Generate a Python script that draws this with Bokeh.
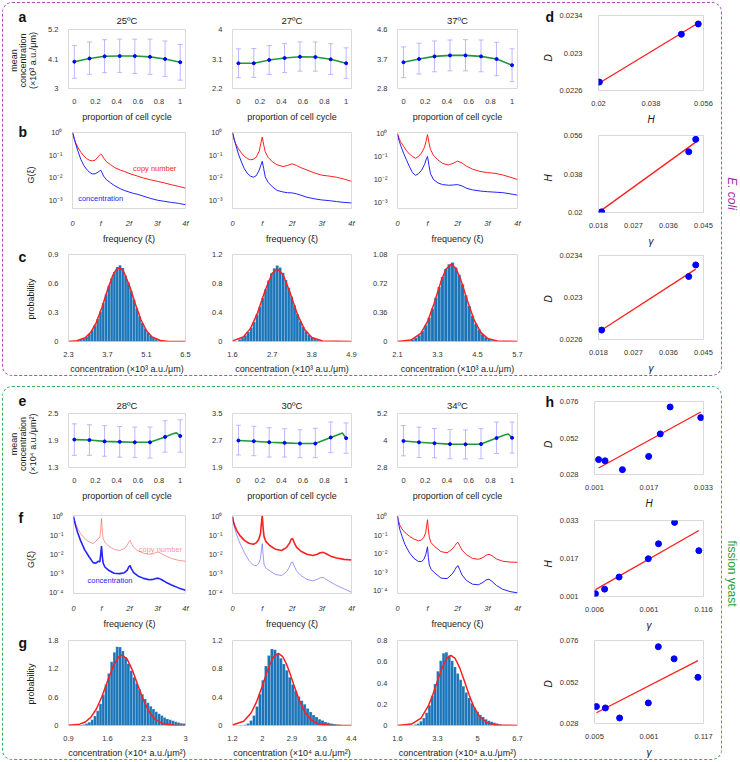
import math
from bokeh.plotting import figure
from bokeh.models import (Range1d, FixedTicker, CustomJSTickFormatter, Label,
                          Whisker, TeeHead, ColumnDataSource, Spacer)
from bokeh.layouts import row, column
from bokeh.embed import file_html
from bokeh.resources import INLINE

FONT = "Liberation Sans"

# ======================= DATA =======================
phase = [0, 1/7, 2/7, 3/7, 4/7, 5/7, 6/7, 1]
phase_ticks = [0, 0.2, 0.4, 0.6, 0.8, 1]

ec_titles = ["25ºC", "27ºC", "37ºC"]
ec25_mean = [4.00, 4.12, 4.20, 4.21, 4.21, 4.18, 4.10, 3.98]
ec25_hi = [4.60, 4.73, 4.82, 4.84, 4.84, 4.84, 4.77, 4.64]
ec25_lo = [3.38, 3.53, 3.59, 3.60, 3.56, 3.53, 3.45, 3.31]
ec27_mean = [2.97, 2.97, 3.07, 3.13, 3.17, 3.16, 3.09, 2.97]
ec27_hi = [3.41, 3.42, 3.51, 3.57, 3.62, 3.62, 3.57, 3.44]
ec27_lo = [2.53, 2.54, 2.63, 2.69, 2.73, 2.73, 2.63, 2.51]
ec37_mean = [3.60, 3.70, 3.78, 3.81, 3.81, 3.78, 3.70, 3.51]
ec37_hi = [4.07, 4.18, 4.25, 4.28, 4.29, 4.28, 4.21, 4.01]
ec37_lo = [3.13, 3.24, 3.31, 3.34, 3.34, 3.31, 3.19, 3.01]
ec_mean_yticks = [[3, 4.1, 5.2], [2.2, 3.1, 4], [2.8, 3.7, 4.6]]

sp_titles = ["28ºC", "30ºC", "34ºC"]
sp28_mean = [1.92, 1.91, 1.88, 1.87, 1.86, 1.86, 1.98, 2.00]
sp28_hi = [2.27, 2.25, 2.23, 2.21, 2.20, 2.20, 2.34, 2.36]
sp28_lo = [1.57, 1.57, 1.55, 1.53, 1.52, 1.51, 1.64, 1.64]
sp30_mean = [2.70, 2.68, 2.65, 2.63, 2.61, 2.61, 2.79, 2.77]
sp30_hi = [3.15, 3.12, 3.08, 3.05, 3.02, 3.06, 3.25, 3.22]
sp30_lo = [2.27, 2.25, 2.21, 2.21, 2.19, 2.19, 2.34, 2.32]
sp34_mean = [3.98, 3.92, 3.88, 3.84, 3.83, 3.84, 4.11, 4.12]
sp34_hi = [4.66, 4.59, 4.53, 4.49, 4.47, 4.53, 4.82, 4.82]
sp34_lo = [3.32, 3.24, 3.23, 3.19, 3.18, 3.19, 3.42, 3.44]
sp_curve_phase = [0, 1/7, 2/7, 3/7, 4/7, 5/7, 6/7, 0.93, 0.965, 1.0]
sp28_curve = [1.92, 1.91, 1.88, 1.87, 1.86, 1.86, 1.98, 2.05, 2.07, 2.00]
sp30_curve = [2.70, 2.68, 2.65, 2.63, 2.61, 2.61, 2.79, 2.88, 2.92, 2.77]
sp34_curve = [3.98, 3.92, 3.88, 3.84, 3.83, 3.84, 4.11, 4.24, 4.29, 4.12]
sp_mean_yticks = [[1.3, 1.9, 2.5], [1.9, 2.7, 3.5], [2.8, 4, 5.2]]

# spectra: frequency in units of f, values as log10 G(xi)
freq_ec = [0, 0.05, 0.1, 0.2, 0.3, 0.4, 0.5, 0.6, 0.7, 0.8, 0.9, 0.95, 1.0, 1.05, 1.1,
           1.2, 1.35, 1.5, 1.7, 1.85, 2.0, 2.15, 2.3, 2.5, 2.75, 3.0, 3.25, 3.5, 3.75, 4.0]
ec25_copy_log = [0.0, -0.25, -0.42, -0.68, -0.88, -1.03, -1.15, -1.22, -1.25, -1.22,
                 -1.08, -1.0, -0.95, -1.0, -1.12, -1.28, -1.42, -1.55, -1.66, -1.72,
                 -1.80, -1.86, -1.92, -2.00, -2.08, -2.15, -2.22, -2.30, -2.37, -2.45]
ec25_conc_log = [0.0, -0.2, -0.45, -0.85, -1.2, -1.45, -1.62, -1.75, -1.82, -1.82,
                 -1.75, -1.70, -1.66, -1.78, -1.92, -2.08, -2.22, -2.35, -2.48, -2.56,
                 -2.62, -2.68, -2.72, -2.80, -2.90, -2.98, -3.03, -3.08, -3.12, -3.18]
ec27_copy_log = [0.0, -0.3, -0.48, -0.72, -0.9, -1.05, -1.15, -1.2, -1.18, -1.08,
                 -0.82, -0.5, -0.2, -0.55, -0.85, -1.1, -1.3, -1.42, -1.5, -1.45,
                 -1.38, -1.45, -1.55, -1.65, -1.78, -1.88, -1.92, -1.97, -2.05, -2.15]
ec27_conc_log = [0.0, -0.25, -0.5, -0.95, -1.3, -1.6, -1.8, -1.92, -1.97, -1.9,
                 -1.65, -1.45, -1.27, -1.6, -1.95, -2.2, -2.4, -2.55, -2.62, -2.65,
                 -2.66, -2.7, -2.76, -2.85, -2.92, -2.97, -3.0, -3.04, -3.08, -3.1]
ec37_copy_log = [0.0, -0.2, -0.35, -0.55, -0.75, -0.9, -1.0, -1.08, -1.0, -0.85,
                 -0.6, -0.35, -0.05, -0.4, -0.7, -0.95, -1.15, -1.3, -1.37, -1.3,
                 -1.2, -1.28, -1.42, -1.55, -1.65, -1.7, -1.73, -1.8, -1.9, -2.0]
ec37_conc_log = [-0.05, -0.3, -0.5, -0.85, -1.15, -1.45, -1.7, -1.82, -1.75, -1.6,
                 -1.35, -1.15, -1.0, -1.4, -1.75, -2.0, -2.15, -2.22, -2.25, -2.24,
                 -2.22, -2.28, -2.38, -2.45, -2.5, -2.53, -2.55, -2.57, -2.62, -2.68]

freq_sp = [0, 0.03, 0.08, 0.15, 0.25, 0.4, 0.55, 0.7, 0.8, 0.88, 0.94, 0.97, 1.0, 1.03,
           1.06, 1.12, 1.25, 1.45, 1.65, 1.82, 1.92, 1.97, 2.02, 2.07, 2.15, 2.3, 2.5,
           2.7, 2.85, 2.95, 3.05, 3.15, 3.3, 3.5, 3.75, 4.0]
sp28_copy_log = [0, -0.15, -0.38, -0.62, -0.88, -1.15, -1.32, -1.42, -1.3, -1.15,
                 -1.1, -0.7, -0.1, -0.75, -1.15, -1.35, -1.55, -1.72, -1.78, -1.68,
                 -1.5, -1.35, -1.25, -1.42, -1.62, -1.8, -1.92, -1.98, -1.95, -1.88,
                 -1.87, -1.95, -2.07, -2.2, -2.3, -2.35]
sp28_conc_log = [0, -0.2, -0.5, -0.85, -1.25, -1.75, -2.1, -2.42, -2.45, -2.35,
                 -2.38, -2.0, -1.55, -2.1, -2.45, -2.65, -2.82, -2.98, -3.0, -2.95,
                 -2.82, -2.65, -2.58, -2.75, -2.95, -3.12, -3.25, -3.32, -3.3, -3.25,
                 -3.25, -3.32, -3.45, -3.6, -3.75, -3.88]
sp30_copy_log = [0, -0.25, -0.5, -0.75, -1.0, -1.25, -1.4, -1.45, -1.38, -1.2,
                 -0.9, -0.4, 0.05, -0.6, -1.05, -1.3, -1.52, -1.72, -1.78, -1.62,
                 -1.38, -1.2, -1.15, -1.35, -1.6, -1.82, -1.98, -2.05, -1.98, -1.9,
                 -1.88, -1.95, -2.08, -2.18, -2.25, -2.28]
sp30_conc_log = [0, -0.3, -0.65, -1.0, -1.4, -1.9, -2.3, -2.55, -2.58, -2.48,
                 -2.2, -1.8, -1.42, -2.0, -2.5, -2.7, -2.85, -3.05, -3.1, -2.9,
                 -2.62, -2.42, -2.38, -2.58, -2.85, -3.1, -3.3, -3.38, -3.3, -3.22,
                 -3.2, -3.3, -3.45, -3.62, -3.8, -3.98]
sp34_copy_log = [0.05, -0.2, -0.45, -0.65, -0.85, -1.05, -1.2, -1.3, -1.25, -1.1,
                 -0.85, -0.5, -0.15, -0.7, -1.1, -1.4, -1.62, -1.88, -1.95, -1.75,
                 -1.55, -1.42, -1.38, -1.55, -1.8, -2.05, -2.25, -2.3, -2.2, -2.08,
                 -2.03, -2.1, -2.28, -2.4, -2.45, -2.46]
sp34_conc_log = [0.05, -0.3, -0.7, -1.05, -1.5, -1.95, -2.25, -2.42, -2.42, -2.3,
                 -2.05, -1.85, -1.62, -2.2, -2.6, -2.85, -3.05, -3.32, -3.35, -3.1,
                 -2.85, -2.7, -2.65, -2.85, -3.15, -3.45, -3.65, -3.68, -3.55, -3.42,
                 -3.38, -3.5, -3.72, -3.92, -4.05, -4.12]
freq_ticks = [0, 1, 2, 3, 4]
freq_labels = ["0", "f", "2f", "3f", "4f"]

# concentration histograms (probability density) + normal fits
ec25_bin0, ec25_binw = 2.65, 0.1
ec25_hist = [0.010, 0.018, 0.030, 0.049, 0.077, 0.116, 0.167, 0.232, 0.310, 0.397,
             0.488, 0.578, 0.657, 0.718, 0.770, 0.790, 0.760, 0.684, 0.611, 0.525,
             0.433, 0.344, 0.262, 0.192, 0.135, 0.091, 0.059, 0.037, 0.022, 0.013, 0.007]
ec25_fit_x = [2.3, 2.6, 2.9, 3.1, 3.3, 3.5, 3.7, 3.9, 4.0, 4.1, 4.2, 4.3, 4.5, 4.7,
              4.9, 5.1, 5.3, 5.6, 5.9, 6.2, 6.5]
ec25_fit_y = [0.001, 0.008, 0.039, 0.095, 0.198, 0.352, 0.534, 0.690, 0.739, 0.760,
              0.750, 0.712, 0.569, 0.388, 0.225, 0.111, 0.047, 0.010, 0.001, 0.0, 0.0]
ec27_bin0, ec27_binw = 1.80, 0.08
ec27_hist = [0.03, 0.05, 0.085, 0.13, 0.19, 0.27, 0.37, 0.48, 0.60, 0.72, 0.84, 0.94,
             1.01, 1.05, 1.02, 0.95, 0.85, 0.74, 0.62, 0.50, 0.38, 0.28, 0.20, 0.14,
             0.09, 0.056, 0.034, 0.02, 0.011]
ec27_fit_x = [1.6, 1.9, 2.1, 2.3, 2.5, 2.7, 2.84, 3.0, 3.2, 3.4, 3.6, 3.8, 4.1, 4.9]
ec27_fit_y = [0.008, 0.063, 0.181, 0.402, 0.697, 0.941, 1.0, 0.923, 0.667, 0.375,
              0.164, 0.056, 0.007, 0.0]
ec37_bin0, ec37_binw = 2.55, 0.1
ec37_hist = [0.025, 0.046, 0.079, 0.130, 0.201, 0.296, 0.411, 0.542, 0.676, 0.80,
             0.90, 0.96, 0.98, 0.92, 0.83, 0.71, 0.575, 0.44, 0.32, 0.22, 0.145,
             0.09, 0.053, 0.03, 0.016]
ec37_fit_x = [2.1, 2.5, 2.8, 3.0, 3.2, 3.4, 3.55, 3.71, 3.85, 4.0, 4.2, 4.4, 4.6,
              4.8, 5.1, 5.7]
ec37_fit_y = [0.001, 0.018, 0.102, 0.246, 0.475, 0.740, 0.896, 0.960, 0.910, 0.765,
              0.502, 0.265, 0.113, 0.039, 0.005, 0.0]
ec_hist_xr = [(2.3, 6.5), (1.6, 4.9), (2.1, 5.7)]
ec_hist_xticks = [[2.3, 3.7, 5.1, 6.5], [1.6, 2.7, 3.8, 4.9], [2.1, 3.3, 4.5, 5.7]]
ec_hist_yticks = [[0, 0.3, 0.6, 0.9], [0, 0.4, 0.8, 1.2], [0, 0.36, 0.72, 1.08]]

sp28_bin0, sp28_binw = 1.125, 0.05
sp28_hist = [0.01, 0.02, 0.04, 0.07, 0.12, 0.20, 0.31, 0.46, 0.65, 0.87, 1.10, 1.35,
             1.55, 1.67, 1.66, 1.58, 1.45, 1.31, 1.16, 1.02, 0.89, 0.77, 0.66, 0.56,
             0.48, 0.41, 0.35, 0.29, 0.25, 0.21, 0.17, 0.14, 0.12, 0.10, 0.08, 0.065,
             0.05, 0.04]
sp28_fit_x = [0.9, 1.1, 1.2, 1.3, 1.4, 1.5, 1.6, 1.7, 1.8, 1.86, 1.95, 2.05, 2.15,
              2.25, 2.35, 2.45, 2.6, 2.8, 3.0]
sp28_fit_y = [0.003, 0.028, 0.075, 0.173, 0.349, 0.613, 0.937, 1.250, 1.454, 1.49,
              1.410, 1.163, 0.837, 0.525, 0.287, 0.137, 0.035, 0.003, 0.0]
sp30_bin0, sp30_binw = 1.54, 0.08
sp30_hist = [0.01, 0.03, 0.07, 0.14, 0.27, 0.44, 0.64, 0.84, 0.99, 1.08, 1.07, 1.02,
             0.95, 0.87, 0.78, 0.68, 0.58, 0.49, 0.41, 0.35, 0.30, 0.24, 0.19, 0.15,
             0.12, 0.09, 0.07, 0.05, 0.04, 0.03, 0.02, 0.015, 0.01]
sp30_fit_x = [1.2, 1.5, 1.7, 1.85, 2.0, 2.1, 2.2, 2.3, 2.43, 2.55, 2.65, 2.75, 2.85,
              3.0, 3.15, 3.3, 3.5, 3.8, 4.4]
sp30_fit_y = [0.007, 0.059, 0.177, 0.338, 0.555, 0.713, 0.857, 0.965, 1.02, 0.973,
              0.870, 0.729, 0.571, 0.351, 0.186, 0.085, 0.024, 0.002, 0.0]
sp34_bin0, sp34_binw = 2.36, 0.12
sp34_hist = [0.01, 0.02, 0.04, 0.07, 0.12, 0.19, 0.28, 0.39, 0.51, 0.61, 0.68, 0.69,
             0.66, 0.61, 0.55, 0.49, 0.43, 0.37, 0.31, 0.26, 0.21, 0.17, 0.13, 0.10,
             0.08, 0.06, 0.045, 0.035, 0.025, 0.018, 0.012]
sp34_fit_x = [1.6, 2.2, 2.6, 2.9, 3.1, 3.3, 3.5, 3.7, 3.87, 4.05, 4.25, 4.45, 4.65,
              4.85, 5.1, 5.4, 5.8, 6.7]
sp34_fit_y = [0.0005, 0.014, 0.070, 0.179, 0.290, 0.420, 0.546, 0.634, 0.66, 0.631,
              0.540, 0.414, 0.284, 0.174, 0.081, 0.026, 0.004, 0.0]
sp_hist_xr = [(0.9, 3.0), (1.2, 4.4), (1.6, 6.7)]
sp_hist_xticks = [[0.9, 1.6, 2.3, 3.0], [1.2, 2.0, 2.8, 3.6, 4.4], [1.6, 3.3, 5.0, 6.7]]
sp_hist_xlabels = [None, {2.8: "2.9"}, None]   # tick text as printed in the figure
sp_hist_yticks = [[0, 0.6, 1.2, 1.8], [0, 0.4, 0.8, 1.2], [0, 0.2, 0.4, 0.6, 0.8]]

# fitted parameters D, H, gamma
ec_H = [0.0203, 0.0484, 0.0542]
ec_D = [0.02269, 0.02320, 0.02331]
ec_gamma = [0.0188, 0.0412, 0.0430]
ec_fit_DH = ([0.0203, 0.0542], [0.02268, 0.02332])
ec_fit_Hg = ([0.0188, 0.0430], [0.0211, 0.0529])
ec_fit_Dg = ([0.0188, 0.0430], [0.02269, 0.02327])
sp_gamma = [0.0070, 0.0162, 0.0308, 0.0603, 0.0706, 0.0868, 0.1113]
sp_H = [0.0022, 0.0041, 0.0092, 0.0169, 0.0232, 0.0322, 0.0203]
sp_D = [0.0378, 0.0370, 0.0312, 0.0399, 0.0724, 0.0654, 0.0547]
sp_fit_DH = ([0.0022, 0.0322], [0.0323, 0.0691])
sp_fit_Hg = ([0.0070, 0.1113], [0.0039, 0.0288])
sp_fit_Dg = ([0.0070, 0.1113], [0.0342, 0.0644])

# ======================= STYLE / GEOMETRY =======================
# figure columns: (width, left border, right border)
COLS = [(155, 22, 15), (164, 32, 13), (166, 33, 13), (166, 34, 19)]
STRIP1_W = 43
STRIP4_W = 26
SIDE_W = 18
BOX_H = 374
# row bands: (height, top border, bottom border)
TOP_ROWS = [(122, 27, 33), (122, 8, 29), (130, 8, 33)]
TOP_SIDE = [(125, 13, 27), (122, 8, 29), (127, 6, 34)]
BOT_ROWS = [(117, 27, 29), (128, 12, 28), (129, 9, 33)]
BOT_SIDE = [(125, 15, 24), (122, 9, 26), (127, 7, 33)]

RED = "#ff1f1f"
BLUE = "#2424ff"
GREEN_LINE = "#1f9a3a"
EB = "#a8a8ff"
HIST = "#1a74b8"
PURPLE = "#b24db2"
GREEN_BOX = "#3cb05a"
TXT = "#1a1a1a"


def num_fmt():
    return CustomJSTickFormatter(code="return String(parseFloat(tick.toPrecision(6)));")


def log_fmt():
    return CustomJSTickFormatter(code="""
        const e = Math.round(Math.log10(tick));
        const m = {"-": "\\u207b", "0": "\\u2070", "1": "\\u00b9", "2": "\\u00b2",
                   "3": "\\u00b3", "4": "\\u2074", "5": "\\u2075"};
        return "10" + String(e).split("").map(c => m[c]).join("");
    """)


def style_axis(ax):
    ax.axis_line_color = None
    ax.major_tick_line_color = None
    ax.minor_tick_line_color = None
    ax.major_label_text_font = FONT
    ax.major_label_text_font_size = "7.5px"
    ax.major_label_text_color = "#333333"
    ax.axis_label_text_font = FONT
    ax.axis_label_text_font_size = "9px"
    ax.axis_label_text_font_style = "normal"
    ax.axis_label_text_color = TXT
    ax.major_label_standoff = 4
    ax.axis_label_standoff = 4


def make_fig(ci, geom, xr, yr, ylog=False):
    w, lb, rb = COLS[ci]
    h, tb, bb = geom
    p = figure(width=w, height=h, x_range=Range1d(*xr), y_range=Range1d(*yr),
               y_axis_type=("log" if ylog else "linear"), output_backend="svg",
               toolbar_location=None, min_border_left=lb, min_border_right=rb,
               min_border_top=tb, min_border_bottom=bb,
               border_fill_color=None, background_fill_color=None)
    p.grid.visible = False
    p.outline_line_color = "#d9d9d9"
    p.outline_line_width = 1
    style_axis(p.xaxis[0])
    style_axis(p.yaxis[0])
    p.xaxis[0].formatter = num_fmt()
    p.yaxis[0].formatter = log_fmt() if ylog else num_fmt()
    return p


def set_title(p, text, standoff):
    p.title.text = text
    p.title.align = "center"
    p.title.text_font = FONT
    p.title.text_font_size = "9.5px"
    p.title.text_font_style = "normal"
    p.title.text_color = TXT
    p.title.standoff = standoff


def mean_panel(ci, geom, xs, mean, lo, hi, cx, cy, yticks, title, title_standoff):
    p = make_fig(ci, geom, (-0.055, 1.05), (yticks[0], yticks[-1]))
    src = ColumnDataSource(dict(x=xs, lo=lo, hi=hi))
    p.add_layout(Whisker(source=src, base="x", lower="lo", upper="hi", line_color=EB,
                         line_width=0.8,
                         upper_head=TeeHead(size=5, line_color=EB, line_width=0.8),
                         lower_head=TeeHead(size=5, line_color=EB, line_width=0.8)))
    p.line(cx, cy, color=GREEN_LINE, line_width=1.6)
    p.scatter(xs, mean, size=3, color="#0000ff")
    p.xaxis.ticker = FixedTicker(ticks=phase_ticks)
    p.yaxis.ticker = FixedTicker(ticks=yticks)
    p.xaxis.axis_label = "proportion of cell cycle"
    p.xaxis.major_label_standoff = 4
    p.xaxis.axis_label_standoff = 5
    set_title(p, title, title_standoff)
    return p


def spec_panel(ci, geom, xs, copy_log, conc_log, yr, yticks, copy_style=None,
               conc_style=None, texts=None):
    p = make_fig(ci, geom, (0, 4), yr, ylog=True)
    cs = copy_style or {}
    ks = conc_style or {}
    p.line(xs, [10 ** v for v in copy_log], color=RED, line_width=cs.get("w", 1.0),
           line_alpha=cs.get("a", 1.0))
    p.line(xs, [10 ** v for v in conc_log], color=BLUE, line_width=ks.get("w", 1.0),
           line_alpha=ks.get("a", 1.0))
    p.xaxis.ticker = FixedTicker(ticks=freq_ticks)
    p.xaxis.major_label_overrides = {t: s for t, s in zip(freq_ticks, freq_labels)}
    p.xaxis.major_label_text_font_style = "italic"
    p.yaxis.ticker = FixedTicker(ticks=yticks)
    p.xaxis.axis_label = "frequency (ξ)"
    p.xaxis.major_label_standoff = 4
    p.xaxis.axis_label_standoff = 3
    if texts:
        for (tx, ty, t, col, a) in texts:
            p.text(x=[tx], y=[ty], text=[t], text_color=col, text_alpha=a,
                   text_font_size="7.5px", text_baseline="middle", text_align="left",
                   text_font={"value": FONT})
    return p


def hist_panel(ci, geom, bin0, binw, hist, fx, fy, xr, xticks, yticks, xlabel,
               xlabels=None):
    p = make_fig(ci, geom, xr, (yticks[0], yticks[-1]))
    centers = [bin0 + i * binw for i in range(len(hist))]
    p.vbar(x=centers, top=hist, width=binw, bottom=0, fill_color=HIST,
           line_color="white", line_width=0.3, line_alpha=0.6)
    p.line(fx, fy, color=RED, line_width=1.5)
    p.xaxis.ticker = FixedTicker(ticks=xticks)
    if xlabels:
        p.xaxis.major_label_overrides = xlabels
    p.yaxis.ticker = FixedTicker(ticks=yticks)
    p.xaxis.axis_label = xlabel
    p.xaxis.major_label_standoff = 4
    p.xaxis.axis_label_standoff = 4
    return p


def scatter_panel(geom, xs, ys, fit, xr, yr, xticks, yticks, xlabel):
    p = make_fig(3, geom, xr, yr)
    p.line(fit[0], fit[1], color=RED, line_width=1.3)
    p.scatter(xs, ys, size=6, color="#0000ff")
    p.xaxis.ticker = FixedTicker(ticks=xticks)
    p.yaxis.ticker = FixedTicker(ticks=yticks)
    p.yaxis.major_label_standoff = 10
    p.xaxis.axis_label = xlabel
    p.xaxis.axis_label_text_font_style = "italic"
    p.xaxis.axis_label_text_font_size = "10px"
    p.xaxis.major_label_standoff = 4
    p.xaxis.axis_label_standoff = 5
    return p


def text_strip(width, height, items):
    """Narrow figure whose data units are pixels (x from left, y from bottom)."""
    p = figure(width=width, height=height, x_range=Range1d(0, width),
               y_range=Range1d(0, height), output_backend="svg", toolbar_location=None,
               x_axis_location=None, y_axis_location=None,
               border_fill_color=None, background_fill_color=None)
    p.min_border_left = p.min_border_right = p.min_border_top = p.min_border_bottom = 0
    p.outline_line_color = None
    p.grid.visible = False
    for it in items:
        p.add_layout(Label(x=it["x"], y=it["y"], text=it["t"], text_font=FONT,
                           text_font_size=it.get("size", "9px"),
                           text_font_style=it.get("style", "normal"),
                           text_color=it.get("color", TXT),
                           angle=it.get("angle", 0.0),
                           text_align=it.get("align", "center"),
                           text_baseline="middle"))
    return p


def band_frames(bands):
    """(frame top from box top, frame height) for each band."""
    out, top = [], 0
    for h, tb, bb in bands:
        out.append((top + tb, h - tb - bb))
        top += h
    return out


def col1_strip(bands, letters, letter_dy, ylabels):
    frames = band_frames(bands)
    items = []
    for (ft, fh), L, dy, yl in zip(frames, letters, letter_dy, ylabels):
        items.append(dict(x=16, y=BOX_H - (ft - dy), t=L, size="14px", style="bold",
                          align="left", color="#111111"))
        yc = BOX_H - (ft + fh / 2)
        if isinstance(yl, list):
            for x, t in zip([11, 20, 30], yl):
                items.append(dict(x=x, y=yc, t=t, angle=math.pi / 2))
        else:
            items.append(dict(x=28, y=yc, t=yl, angle=math.pi / 2))
    return text_strip(STRIP1_W, BOX_H, items)


def col4_strip(bands, letter, letter_dy, ylabels):
    frames = band_frames(bands)
    items = []
    ft0 = frames[0][0]
    items.append(dict(x=15, y=BOX_H - (ft0 - letter_dy), t=letter, size="14px",
                      style="bold", align="left", color="#111111"))
    for (ft, fh), yl in zip(frames, ylabels):
        items.append(dict(x=18, y=BOX_H - (ft + fh / 2), t=yl, size="10px",
                          style="italic", angle=math.pi / 2))
    return text_strip(STRIP4_W, BOX_H, items)


def side_strip(text, color, italic, yc):
    return text_strip(SIDE_W, BOX_H, [dict(x=9, y=yc, t=text, size="12px", color=color,
                                           style=("italic" if italic else "normal"),
                                           angle=-math.pi / 2)])


# ======================= E. coli =======================
ec_ylines = ["mean", "concentration", "(×10³ a.u./μm)"]
a1 = mean_panel(0, TOP_ROWS[0], phase, ec25_mean, ec25_lo, ec25_hi, phase, ec25_mean,
                ec_mean_yticks[0], ec_titles[0], 7)
a2 = mean_panel(1, TOP_ROWS[0], phase, ec27_mean, ec27_lo, ec27_hi, phase, ec27_mean,
                ec_mean_yticks[1], ec_titles[1], 7)
a3 = mean_panel(2, TOP_ROWS[0], phase, ec37_mean, ec37_lo, ec37_hi, phase, ec37_mean,
                ec_mean_yticks[2], ec_titles[2], 7)

ec_spec_ticks = [1, 0.1, 0.01, 0.001]
b1 = spec_panel(0, TOP_ROWS[1], freq_ec, ec25_copy_log, ec25_conc_log, (4.5e-4, 1.0),
                ec_spec_ticks,
                texts=[(2.14, 0.026, "copy number", RED, 1.0),
                       (0.2, 0.0012, "concentration", BLUE, 1.0)])
b2 = spec_panel(1, TOP_ROWS[1], freq_ec, ec27_copy_log, ec27_conc_log, (4.5e-4, 1.0),
                ec_spec_ticks)
b3 = spec_panel(2, TOP_ROWS[1], freq_ec, ec37_copy_log, ec37_conc_log, (5.5e-4, 1.1),
                ec_spec_ticks)

ec_xlab = "concentration (×10³ a.u./μm)"
c1 = hist_panel(0, TOP_ROWS[2], ec25_bin0, ec25_binw, ec25_hist, ec25_fit_x, ec25_fit_y,
                ec_hist_xr[0], ec_hist_xticks[0], ec_hist_yticks[0], ec_xlab)
c2 = hist_panel(1, TOP_ROWS[2], ec27_bin0, ec27_binw, ec27_hist, ec27_fit_x, ec27_fit_y,
                ec_hist_xr[1], ec_hist_xticks[1], ec_hist_yticks[1], ec_xlab)
c3 = hist_panel(2, TOP_ROWS[2], ec37_bin0, ec37_binw, ec37_hist, ec37_fit_x, ec37_fit_y,
                ec_hist_xr[2], ec_hist_xticks[2], ec_hist_yticks[2], ec_xlab)

d1 = scatter_panel(TOP_SIDE[0], ec_H, ec_D, ec_fit_DH, (0.02, 0.056), (0.0226, 0.0234),
                   [0.02, 0.038, 0.056], [0.0226, 0.023, 0.0234], "H")
d2 = scatter_panel(TOP_SIDE[1], ec_gamma, ec_H, ec_fit_Hg, (0.018, 0.045), (0.02, 0.056),
                   [0.018, 0.027, 0.036, 0.045], [0.02, 0.038, 0.056], "γ")
d3 = scatter_panel(TOP_SIDE[2], ec_gamma, ec_D, ec_fit_Dg, (0.018, 0.045),
                   (0.0226, 0.0234), [0.018, 0.027, 0.036, 0.045],
                   [0.0226, 0.023, 0.0234], "γ")

# ======================= fission yeast =======================
sp_ylines = ["mean", "concentration", "(×10⁴ a.u./μm²)"]
e1 = mean_panel(0, BOT_ROWS[0], phase, sp28_mean, sp28_lo, sp28_hi, sp_curve_phase,
                sp28_curve, sp_mean_yticks[0], sp_titles[0], 6)
e2 = mean_panel(1, BOT_ROWS[0], phase, sp30_mean, sp30_lo, sp30_hi, sp_curve_phase,
                sp30_curve, sp_mean_yticks[1], sp_titles[1], 6)
e3 = mean_panel(2, BOT_ROWS[0], phase, sp34_mean, sp34_lo, sp34_hi, sp_curve_phase,
                sp34_curve, sp_mean_yticks[2], sp_titles[2], 6)

sp_spec_ticks = [1, 0.1, 0.01, 0.001, 0.0001]
f1 = spec_panel(0, BOT_ROWS[1], freq_sp, sp28_copy_log, sp28_conc_log, (9e-5, 1.15),
                sp_spec_ticks, copy_style={"w": 1.0, "a": 0.45},
                conc_style={"w": 1.6, "a": 1.0},
                texts=[(2.33, 0.019, "copy number", RED, 0.55),
                       (0.5, 4.5e-4, "concentration", BLUE, 1.0)])
f2 = spec_panel(1, BOT_ROWS[1], freq_sp, sp30_copy_log, sp30_conc_log, (9e-5, 1.15),
                sp_spec_ticks, copy_style={"w": 1.6, "a": 1.0},
                conc_style={"w": 1.0, "a": 0.45})
f3 = spec_panel(2, BOT_ROWS[1], freq_sp, sp34_copy_log, sp34_conc_log, (7e-5, 1.2),
                sp_spec_ticks)

sp_xlab = "concentration (×10⁴ a.u./μm²)"
g1 = hist_panel(0, BOT_ROWS[2], sp28_bin0, sp28_binw, sp28_hist, sp28_fit_x, sp28_fit_y,
                sp_hist_xr[0], sp_hist_xticks[0], sp_hist_yticks[0], sp_xlab,
                sp_hist_xlabels[0])
g2 = hist_panel(1, BOT_ROWS[2], sp30_bin0, sp30_binw, sp30_hist, sp30_fit_x, sp30_fit_y,
                sp_hist_xr[1], sp_hist_xticks[1], sp_hist_yticks[1], sp_xlab,
                sp_hist_xlabels[1])
g3 = hist_panel(2, BOT_ROWS[2], sp34_bin0, sp34_binw, sp34_hist, sp34_fit_x, sp34_fit_y,
                sp_hist_xr[2], sp_hist_xticks[2], sp_hist_yticks[2], sp_xlab,
                sp_hist_xlabels[2])

h1 = scatter_panel(BOT_SIDE[0], sp_H, sp_D, sp_fit_DH, (0.001, 0.033), (0.028, 0.076),
                   [0.001, 0.017, 0.033], [0.028, 0.052, 0.076], "H")
h2 = scatter_panel(BOT_SIDE[1], sp_gamma, sp_H, sp_fit_Hg, (0.006, 0.116), (0.001, 0.033),
                   [0.006, 0.061, 0.116], [0.001, 0.017, 0.033], "γ")
h3 = scatter_panel(BOT_SIDE[2], sp_gamma, sp_D, sp_fit_Dg, (0.005, 0.117), (0.028, 0.076),
                   [0.005, 0.061, 0.117], [0.028, 0.052, 0.076], "γ")

# ======================= LAYOUT =======================
s1_top = col1_strip(TOP_ROWS, ["a", "b", "c"], [13, 1, -2],
                    [ec_ylines, "G(ξ)", "probability"])
s4_top = col4_strip(TOP_SIDE, "d", -1.5, ["D", "H", "D"])
s1_bot = col1_strip(BOT_ROWS, ["e", "f", "g"], [13, -2, -2],
                    [sp_ylines, "G(ξ)", "probability"])
s4_bot = col4_strip(BOT_SIDE, "h", 0, ["D", "H", "D"])


def box(strip1, grid_rows, strip4, side_col, color):
    return row(strip1, column(*[row(*r) for r in grid_rows]), strip4, column(*side_col),
               styles={"outline": "1.6px dashed " + color, "outline-offset": "-1px",
                       "border-radius": "10px"})


top_box = box(s1_top, [(a1, a2, a3), (b1, b2, b3), (c1, c2, c3)], s4_top, (d1, d2, d3),
              PURPLE)
bot_box = box(s1_bot, [(e1, e2, e3), (f1, f2, f3), (g1, g2, g3)], s4_bot, (h1, h2, h3),
              GREEN_BOX)

layout = row(Spacer(width=2),
             column(Spacer(height=2),
                    row(top_box, side_strip("E. coli", "#a02aa0", True, 183)),
                    Spacer(height=10),
                    row(bot_box, side_strip("fission yeast", "#2aa045", False, 187))))

open("out.html", "w").write(file_html(layout, INLINE))
